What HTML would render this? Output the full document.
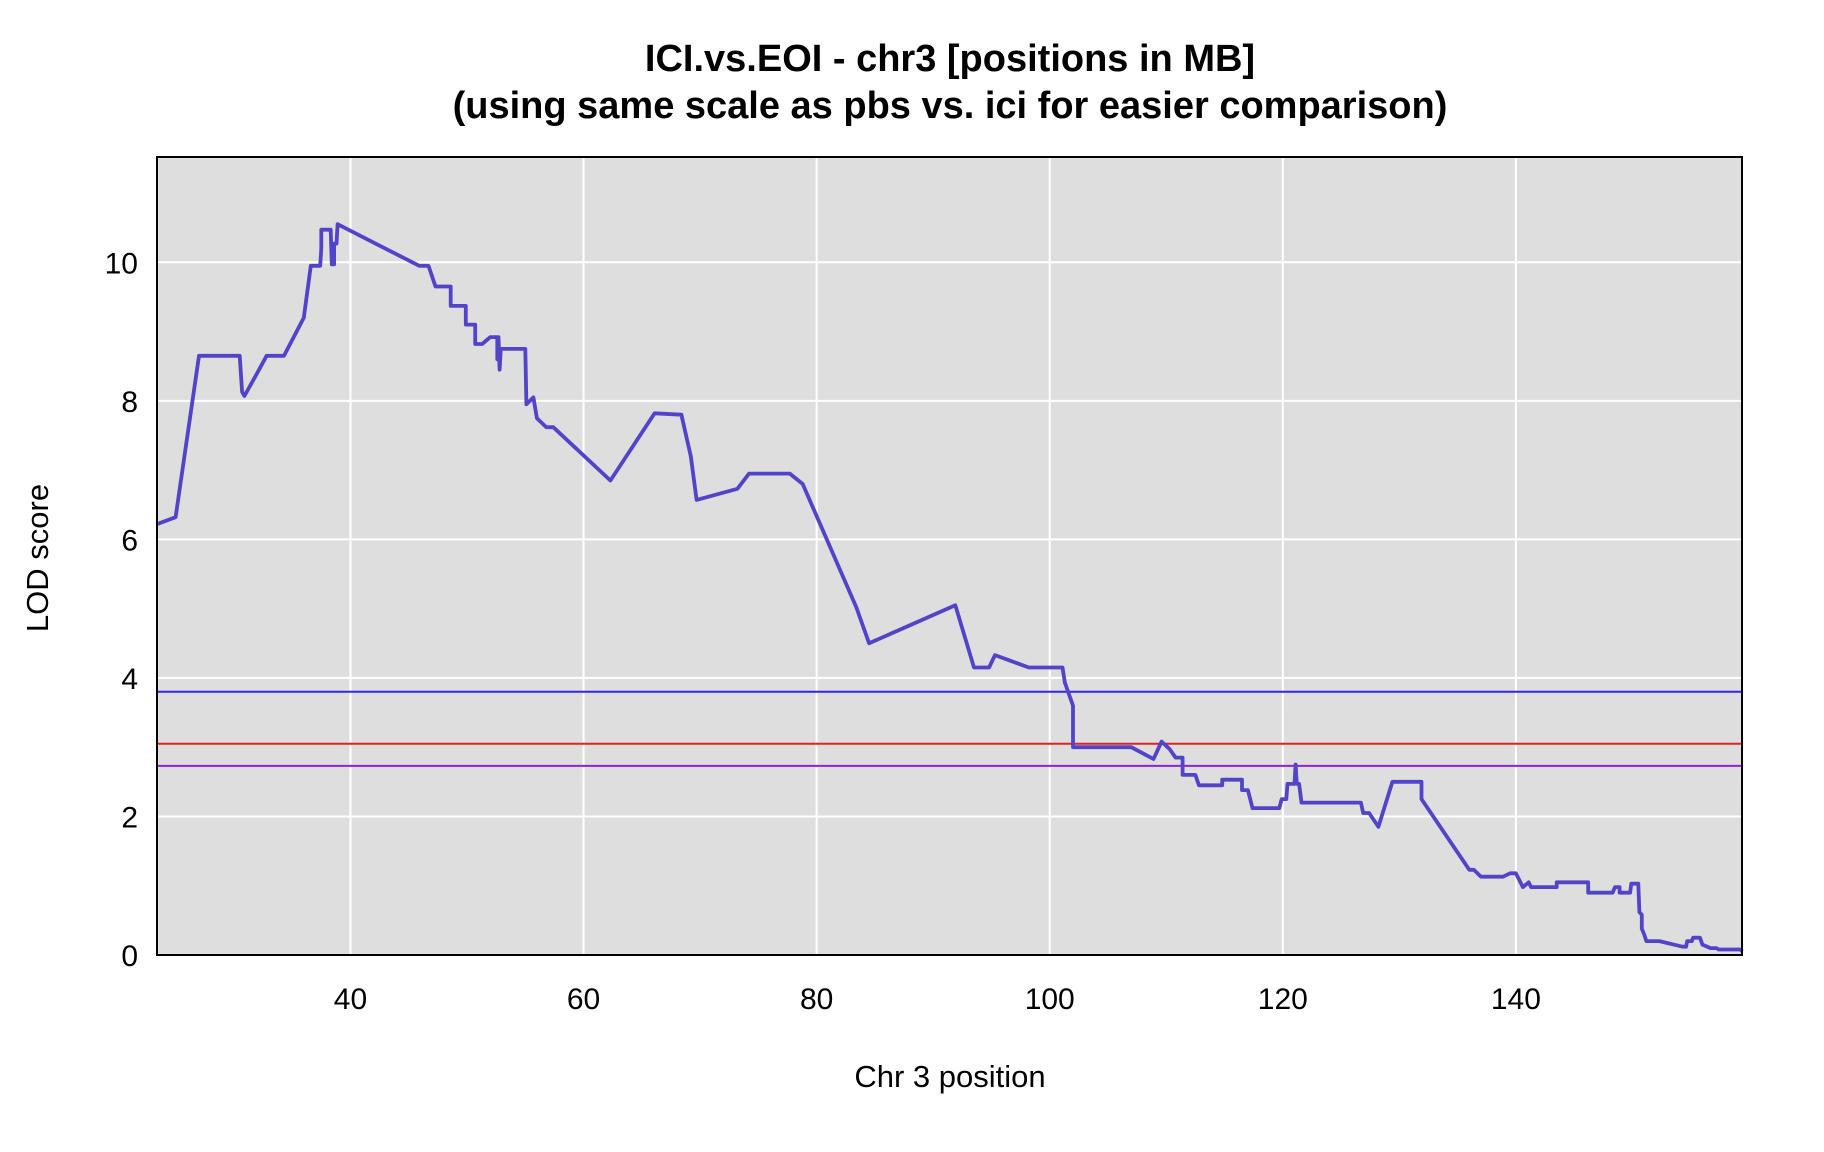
<!DOCTYPE html>
<html><head><meta charset="utf-8"><style>
body{margin:0;background:#fff;}
svg{display:block;font-family:"Liberation Sans",Arial,sans-serif;}
</style></head><body>
<svg id="chart" width="1824" height="1152" viewBox="0 0 1824 1152" xmlns="http://www.w3.org/2000/svg">
<text x="950" y="71" text-anchor="middle" font-size="38" font-weight="bold">ICI.vs.EOI - chr3 [positions in MB]</text>
<text x="950" y="118" text-anchor="middle" font-size="38" font-weight="bold">(using same scale as pbs vs. ici for easier comparison)</text>
<rect x="157" y="157" width="1585" height="798" fill="#dedede"/>
<g id="grid"></g>
<g id="ticks" font-size="30"></g>
<g id="thresholds"></g>
<path id="lod" fill="none" stroke="#5244c8" stroke-width="3.8" stroke-linejoin="round"/>
<rect x="157" y="157" width="1585" height="798" fill="none" stroke="#000" stroke-width="2"/>
<text x="950" y="1087" text-anchor="middle" font-size="31">Chr 3 position</text>
<text x="48" y="558" text-anchor="middle" font-size="31" transform="rotate(-90 48 558)">LOD score</text>
</svg>
<script>
const xTicks = [40, 60, 80, 100, 120, 140];
const yTicks = [0, 2, 4, 6, 8, 10];
const thresholdValues = [3.8, 3.05, 2.73];
const thresholdColors = ["#2a2ae6", "#e62020", "#9020e0"];
const positions = [23.4,25,27,30.5,30.7,30.9,32,32.8,34.3,36,36.6,37.4,37.5,37.5,38.3,38.4,38.6,38.6,38.8,38.9,45.9,46.7,47.3,48.6,48.6,49.9,49.9,50.7,50.7,51.3,52,52.6,52.6,52.7,52.8,52.9,55,55.1,55.7,56,56.8,57.4,62.3,66.1,68.4,69.2,69.7,73.2,74.2,77.7,78.8,83.4,84.5,91.9,93.5,94.8,95.3,98.2,101.1,101.3,102,102,107,108.9,109.6,110.3,110.8,111.4,111.4,112.5,112.8,114.8,114.8,116.5,116.5,117,117.4,119.7,119.9,120.3,120.4,121,121.1,121.2,121.4,121.6,126.7,126.9,127.4,128.2,129.4,131.9,131.9,136,136.4,137,138.9,139.5,140,140.6,141.1,141.3,143.5,143.5,146.2,146.2,148.3,148.5,148.9,148.9,149.8,149.9,150.5,150.6,150.8,150.8,151,151.2,152.3,154.3,154.6,154.7,155.1,155.2,155.8,156,156.7,157.2,157.4,159.3,159.4];
const lodValues = [6.22,6.32,8.65,8.65,8.13,8.07,8.4,8.65,8.65,9.2,9.95,9.95,10.2,10.47,10.47,9.97,9.97,10.27,10.27,10.55,9.95,9.95,9.65,9.65,9.37,9.37,9.1,9.1,8.82,8.82,8.92,8.92,8.6,8.92,8.45,8.75,8.75,7.95,8.05,7.75,7.62,7.62,6.85,7.82,7.8,7.2,6.57,6.73,6.95,6.95,6.8,5.02,4.5,5.05,4.15,4.15,4.33,4.15,4.15,3.93,3.6,3.0,3.0,2.83,3.08,2.97,2.85,2.85,2.6,2.6,2.45,2.45,2.53,2.53,2.38,2.38,2.12,2.12,2.25,2.25,2.47,2.47,2.75,2.47,2.47,2.2,2.2,2.05,2.05,1.85,2.5,2.5,2.25,1.23,1.23,1.13,1.13,1.18,1.18,0.98,1.05,0.98,0.98,1.05,1.05,0.9,0.9,0.98,0.98,0.9,0.9,1.03,1.03,0.62,0.58,0.38,0.3,0.2,0.2,0.12,0.12,0.2,0.2,0.25,0.25,0.15,0.1,0.1,0.08,0.08,0.05];

const X0=157, X1=1742, Y0=955, Y1=157;
const xMin=23.4, xMax=159.4, yMin=0, yMax=11.52;
function xs(v){return X0+(v-xMin)/(xMax-xMin)*(X1-X0);}
function ys(v){return Y0-(v-yMin)/(yMax-yMin)*(Y0-Y1);}
const NS="http://www.w3.org/2000/svg";
const grid=document.getElementById('grid'), ticks=document.getElementById('ticks'), th=document.getElementById('thresholds');
function mk(tag,attrs,parent){const e=document.createElementNS(NS,tag);for(const k in attrs)e.setAttribute(k,attrs[k]);parent.appendChild(e);return e;}
xTicks.forEach(t=>{
  const l=mk('line',{x1:xs(t),x2:xs(t),y1:Y1,y2:Y0,stroke:'#fff','stroke-width':2},grid);
  
  
  const tx=mk('text',{x:xs(t),y:1009,'text-anchor':'middle'},ticks);
  
  
  tx.textContent=t;
});
yTicks.forEach(t=>{
  const l=mk('line',{x1:X0,x2:X1,y1:ys(t),y2:ys(t),stroke:'#fff','stroke-width':2},grid);
  
  
  const tx=mk('text',{x:138,y:ys(t)+11,'text-anchor':'end'},ticks);
  
  
  tx.textContent=t;
});
thresholdValues.forEach((v,i)=>{
  const l=mk('line',{x1:X0,x2:X1,y1:ys(v),y2:ys(v),stroke:thresholdColors[i],'stroke-width':2},th);
  
  
});
let d='';
positions.forEach((p,i)=>{d+=(i?'L':'M')+xs(p).toFixed(1)+','+ys(lodValues[i]).toFixed(1);});
document.getElementById('lod').setAttribute('d',d);
</script>
</body></html>
